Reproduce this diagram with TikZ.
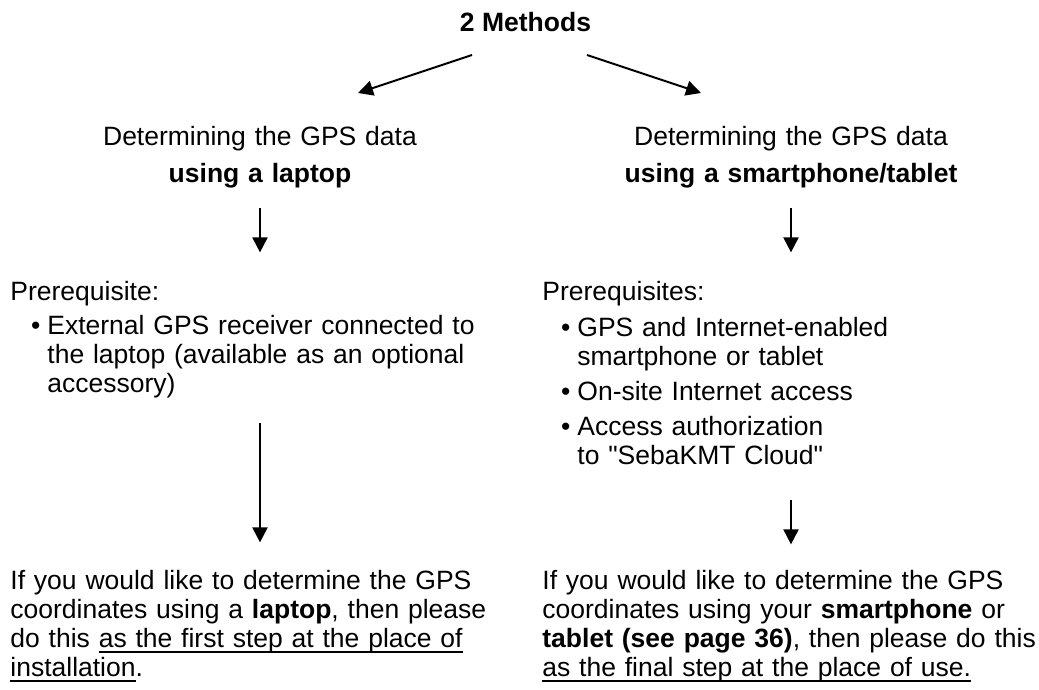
\documentclass[tikz,border=0pt]{standalone}
\usepackage{fontspec}
\setmainfont{Liberation Sans}
\usetikzlibrary{arrows.meta}

% underline sitting just under the baseline, and a hanging bullet
\newcommand{\undl}[1]{\leavevmode\setbox0\hbox{#1}\rlap{\rule[-2.9pt]{\wd0}{1pt}}\box0}
\newcommand{\bul}{\leavevmode\llap{\textbullet\hspace{3.5pt}}}

\begin{document}
\begin{tikzpicture}[x=0.5pt, y=-0.5pt]

        % Styles
        \tikzset{
            txt/.style={inner sep=0, font=\fontsize{13.25pt}{14.5pt}\selectfont},
            head/.style={txt, anchor=base, align=center, text width=180pt, font=\fontsize{13.25pt}{18.5pt}\selectfont},
            block/.style={txt, anchor=base west, align=left, text width=250pt},
            flow/.style={-{Triangle[length=7.5pt, width=7.5pt]}, line width=1pt}
        }

        \useasboundingbox (0,0) rectangle (1039,690);

        % --- Title and the two branches ---
        \node[txt, anchor=base, font=\fontsize{13.25pt}{14.5pt}\selectfont\bfseries] (title) at (525.5,32) {2 Methods};
        \coordinate (lapFrom) at (472,55);
        \coordinate (lapTo) at (358,93);
        \coordinate (phoneFrom) at (587,55);
        \coordinate (phoneTo) at (701,93);
        \draw[flow] (lapFrom) -- (lapTo);
        \draw[flow] (phoneFrom) -- (phoneTo);

        \node[head] (lapHead) at (260,146) {Determining the GPS data\\\textbf{using a laptop}};
        \node[head] (phoneHead) at (791,146) {Determining the GPS data\\\textbf{using a smartphone/tablet}};

        % --- Left column: laptop ---
        \node[block] (lapPre) at (10,300) {Prerequisite:};
        \node[block] (lapList) at (47,334) {\bul External GPS receiver connected to\\
            the laptop (available as an optional\\
            accessory)};
        \node[block] (lapNote) at (10,589) {If you would like to determine the GPS\\
            coordinates using a \textbf{laptop}, then please\\
            do this \undl{as the first step at the place of}\\
            \undl{installation}.};

        % --- Right column: smartphone / tablet ---
        \node[block] (phonePre) at (542,300) {Prerequisites:};
        \node[block] (phoneList) at (577,336) {\bul GPS and Internet-enabled\\
            smartphone or tablet\\[3pt]
            \bul On-site Internet access\\[3pt]
            \bul Access authorization\\
            to \textquotedbl SebaKMT Cloud\textquotedbl};
        \node[block] (phoneNote) at (542,589) {If you would like to determine the GPS\\
            coordinates using your \textbf{smartphone} or\\
            \textbf{tablet (see page 36)}, then please do this\\
            \undl{as the final step at the place of use.}};

        % --- Down arrows ---
        \draw[flow, shorten <=9.7pt, shorten >=14pt] (lapHead.south) -- (lapHead.south |- lapPre.north);
        \draw[flow, shorten <=9.7pt, shorten >=14pt] (phoneHead.south) -- (phoneHead.south |- phonePre.north);
        \draw[flow, shorten <=12.7pt, shorten >=13.5pt] (lapHead.south |- lapList.south) -- (lapHead.south |- lapNote.north);
        \draw[flow, shorten <=17.5pt, shorten >=12.5pt] (phoneHead.south |- phoneList.south) -- (phoneHead.south |- phoneNote.north);

\end{tikzpicture}
\end{document}
